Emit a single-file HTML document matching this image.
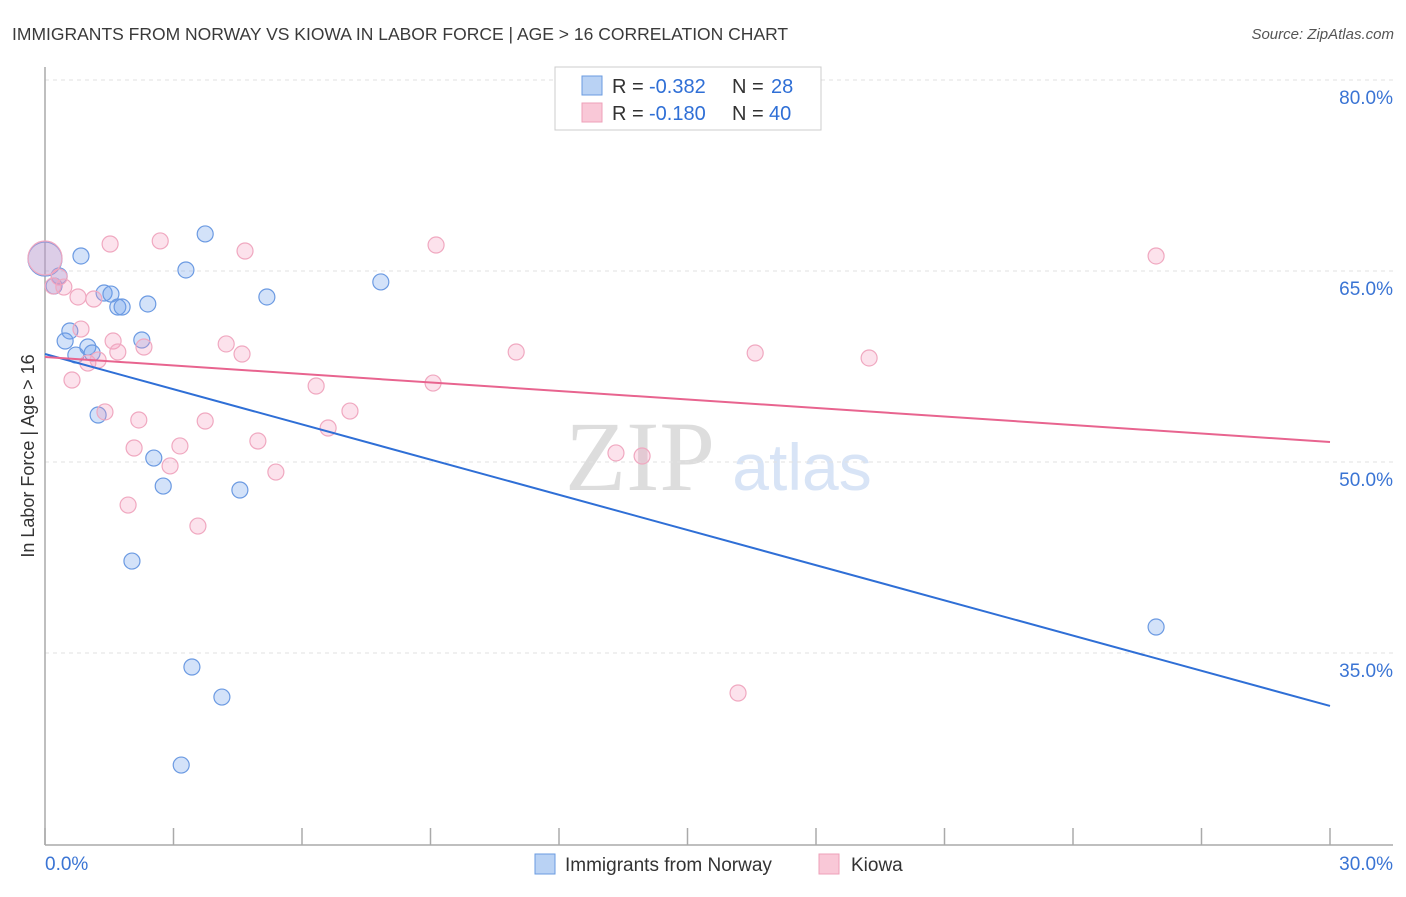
<!DOCTYPE html>
<html><head><meta charset="utf-8"><style>
body{margin:0;background:#fff;font-family:"Liberation Sans",sans-serif}
svg text{font-family:"Liberation Sans",sans-serif}
</style></head><body>
<svg id="c" width="1406" height="892" xmlns="http://www.w3.org/2000/svg">
<text x="12" y="40" font-size="17.5" fill="#3a3a3a">IMMIGRANTS FROM NORWAY VS KIOWA IN LABOR FORCE | AGE &gt; 16 CORRELATION CHART</text>
<text x="1394" y="39" font-size="15" fill="#555" text-anchor="end" font-style="italic">Source: ZipAtlas.com</text>
<text x="640" y="490" font-size="100" fill="#ddd" text-anchor="middle" font-family="Liberation Serif" style="font-family:'Liberation Serif',serif">ZIP</text>
<text x="802" y="490" font-size="66" fill="#d8e4f6" text-anchor="middle">atlas</text>
<g id="grid"></g>
<line x1="45" y1="67" x2="45" y2="845" stroke="#aaa" stroke-width="1.5"/>
<line x1="45" y1="845" x2="1393" y2="845" stroke="#aaa" stroke-width="1.5"/>
<text transform="translate(34,456) rotate(-90)" font-size="18" fill="#333" text-anchor="middle">In Labor Force | Age &gt; 16</text>
<g id="marks"></g>
<rect x="555" y="67" width="266" height="63" fill="#fff" stroke="#ccc"/>
<rect x="582" y="76" width="20" height="19" fill="#b9d2f4" stroke="#6a9be0"/>
<rect x="582" y="103" width="20" height="19" fill="#f9c8d7" stroke="#eea0b9"/>
<g font-size="20">
<text x="612" y="93" fill="#333">R =</text><text x="649" y="93" fill="#2f6fd6">-0.382</text>
<text x="732" y="93" fill="#333">N =</text><text x="771" y="93" fill="#2f6fd6">28</text></g>
<g font-size="20">
<text x="612" y="120" fill="#333">R =</text><text x="649" y="120" fill="#2f6fd6">-0.180</text>
<text x="732" y="120" fill="#333">N =</text><text x="769" y="120" fill="#2f6fd6">40</text></g>
<rect x="535" y="854" width="20" height="20" fill="#b9d2f4" stroke="#6a9be0"/>
<text x="565" y="871" font-size="19" fill="#333">Immigrants from Norway</text>
<rect x="819" y="854" width="20" height="20" fill="#f9c8d7" stroke="#eea0b9"/>
<text x="851" y="871" font-size="19" fill="#333">Kiowa</text>
</svg>
<script>
const xTicks=[0,3,6,9,12,15,18,21,24,27,30];
const yTicks=[80,65,50,35];
const yTickLabels=["80.0%","65.0%","50.0%","35.0%"];
const xTickLabels=["0.0%","30.0%"];
const norwayX=[0,0.84,3.74,3.29,7.84,5.18,0.21,0.33,1.38,1.54,2.40,1.70,1.80,0.58,0.47,2.26,1.00,0.72,1.10,1.24,2.54,2.76,4.55,2.03,25.94,3.43,4.13,3.18];
const norwayY=[65.94,66.18,67.91,65.08,64.14,62.96,63.82,64.61,63.27,63.19,62.41,62.17,62.17,60.29,59.50,59.58,59.03,58.40,58.56,53.69,50.31,48.11,47.80,42.22,37.04,33.90,31.54,26.20];
const kiowaX=[0,1.52,2.69,4.67,9.13,25.94,0.33,0.19,0.44,0.77,1.14,0.84,1.59,2.31,1.70,1.00,1.24,4.23,4.60,11.0,16.58,19.24,0.63,6.33,9.06,7.12,1.40,2.19,3.74,6.61,3.15,4.97,2.08,13.33,13.94,2.92,5.39,1.94,3.57,16.18];
const kiowaY=[66.02,67.12,67.36,66.57,67.04,66.18,64.53,63.82,63.74,62.96,62.80,60.44,59.50,59.03,58.64,57.77,58.01,59.27,58.48,58.64,58.56,58.17,56.44,55.97,56.20,54.0,53.93,53.30,53.22,52.67,51.26,51.65,51.10,50.71,50.47,49.69,49.21,46.62,44.97,31.86];
const norwayTrend=[58.48,30.84];
const kiowaTrend=[58.25,51.57];
const NS="http://www.w3.org/2000/svg";
const sx=v=>45+v*(1285/30);
const sy=v=>80+(80-v)*(191/15);
function mk(t,a,p){const e=document.createElementNS(NS,t);for(const k in a)e.setAttribute(k,a[k]);p.appendChild(e);return e;}
const grid=document.getElementById('grid'),marks=document.getElementById('marks');
yTicks.forEach((v,i)=>{
 const l=mk('line',{x1:45,x2:1393,y1:sy(v),y2:sy(v),stroke:'#e2e2e2','stroke-dasharray':'4,4'},grid);
 
 
 const t=mk('text',{x:1393,y:sy(v)+24,'font-size':19,fill:'#3a74d4','text-anchor':'end'},grid);
 t.textContent=yTickLabels[i];
 
 
});
xTicks.forEach(v=>{
 const l=mk('line',{x1:sx(v),x2:sx(v),y1:828,y2:845,stroke:'#aaa','stroke-width':1.5},grid);
 
 
});
[[0,'start',45],[30,'end',1393]].forEach((d,i)=>{
 const t=mk('text',{x:d[2],y:870,'font-size':19,fill:'#3a74d4','text-anchor':d[1]},grid);
 t.textContent=xTickLabels[i];
 
 
});
function pts(X,Y,fill,stroke,name){
 X.forEach((x,i)=>{
  const c=mk('circle',{cx:sx(x),cy:sy(Y[i]),r:i===0?17:8,fill:fill,stroke:stroke,'stroke-width':1.2},marks);
  
  
 });
}
pts(norwayX,norwayY,'rgba(110,160,235,0.3)','#6b9ae2','norway-point');
pts(kiowaX,kiowaY,'rgba(245,150,185,0.28)','#f0a8c0','kiowa-point');
const bl=mk('line',{x1:sx(0),y1:sy(norwayTrend[0]),x2:sx(30),y2:sy(norwayTrend[1]),stroke:'#2f6fd6','stroke-width':2},marks);


const pl=mk('line',{x1:sx(0),y1:sy(kiowaTrend[0]),x2:sx(30),y2:sy(kiowaTrend[1]),stroke:'#e8648f','stroke-width':2},marks);


</script>
</body></html>
